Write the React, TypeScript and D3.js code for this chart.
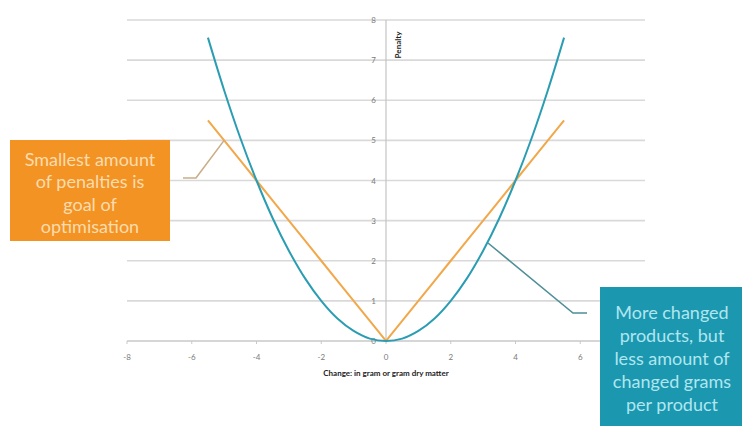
import React from "react";
import * as d3 from "d3";

const xValues = [-5.5, -5, -4.5, -4, -3.5, -3, -2.5, -2, -1.5, -1, -0.5, 0, 0.5, 1, 1.5, 2, 2.5, 3, 3.5, 4, 4.5, 5, 5.5];
const quadraticPenalty = [7.56, 6.25, 5.06, 4, 3.06, 2.25, 1.56, 1, 0.56, 0.25, 0.06, 0, 0.06, 0.25, 0.56, 1, 1.56, 2.25, 3.06, 4, 5.06, 6.25, 7.56];
const linearPenalty = [5.5, 5, 4.5, 4, 3.5, 3, 2.5, 2, 1.5, 1, 0.5, 0, 0.5, 1, 1.5, 2, 2.5, 3, 3.5, 4, 4.5, 5, 5.5];
const xTicks = [-8, -6, -4, -2, 0, 2, 4, 6];
const yTicks = [0, 1, 2, 3, 4, 5, 6, 7, 8];
const xTitle = "Change: in gram or gram dry matter";
const yTitle = "Penalty";
const orangeNote = ["Smallest amount", "of penalties is", "goal of", "optimisation"];
const tealNote = ["More changed", "products, but", "less amount of", "changed grams", "per product"];

export default function App() {
  const W = 742, H = 426;
  const x = d3.scaleLinear().domain([-8, 8]).range([127, 645]);
  const y = d3.scaleLinear().domain([0, 8]).range([341, 20]);

  const blueLine = d3.line<number>().x((_, i) => x(xValues[i])).y((d) => y(d)).curve(d3.curveCatmullRom);
  const orangeLine = d3.line<number>().x((_, i) => x(xValues[i])).y((d) => y(d));

  const font = "Lato, 'Open Sans', sans-serif";

  return (
    <svg width={W} height={H} style={{ position: "absolute", left: 0, top: 0, background: "#fff" }}>
      {/* gridlines */}
      {yTicks.map((t) => (
        <line key={"g" + t} x1={x(-8)} x2={x(8)} y1={y(t)} y2={y(t)} stroke={t === 0 ? "#c8c8c8" : "#d9d9d9"} strokeWidth={1.6} />
      ))}
      {/* y axis */}
      <line x1={x(0)} x2={x(0)} y1={y(8)} y2={y(0)} stroke="#c4c4c4" strokeWidth={1.2} />
      {/* x ticks */}
      {xTicks.map((t) => (
        <g key={"xt" + t}>
          <line x1={x(t)} x2={x(t)} y1={y(0)} y2={y(0) + 3} stroke="#c8c8c8" />
          <text x={x(t)} y={y(0) + 19} fontSize={8} fill="#7a7a7a" textAnchor="middle" fontFamily={font}>{t}</text>
        </g>
      ))}
      {/* y tick labels */}
      {yTicks.map((t) => (
        <text key={"yt" + t} x={x(0) - 10} y={y(t) + 3} fontSize={8} fill="#7a7a7a" textAnchor="end" fontFamily={font}>{t}</text>
      ))}
      {/* axis titles */}
      <text x={x(0) + 15} y={45} transform={`rotate(-90, ${x(0) + 15}, 45)`} fontSize={8} fontWeight="bold" fill="#222" textAnchor="middle" fontFamily={font}>{yTitle}</text>
      <text x={386} y={376} fontSize={8} fontWeight="bold" fill="#222" textAnchor="middle" fontFamily={font}>{xTitle}</text>

      {/* series */}
      <path d={orangeLine(linearPenalty) || ""} fill="none" stroke="#f2a84a" strokeWidth={2} />
      <path d={blueLine(quadraticPenalty) || ""} fill="none" stroke="#2b9db3" strokeWidth={2} />

      {/* connectors */}
      <polyline points={`183,178 196,178 ${x(-5)},${y(5)}`} fill="none" stroke="#c9ae88" strokeWidth={1.6} />
      <polyline points={`488,243 573,313 587,313`} fill="none" stroke="#4f8f98" strokeWidth={1.6} />

      {/* orange note */}
      <rect x={10} y={140} width={160} height={101} fill="#f39324" />
      {orangeNote.map((s, i) => (
        <text key={"o" + i} x={90} y={166 + i * 22.3} fontSize={18} fill="#fcdcae" textAnchor="middle" fontFamily={font}>{s}</text>
      ))}

      {/* teal note */}
      <rect x={600} y={287} width={142} height={139} fill="#1b97b0" />
      {tealNote.map((s, i) => (
        <text key={"t" + i} x={672} y={319 + i * 23} fontSize={18} fill="#b0e6ef" textAnchor="middle" fontFamily={font}>{s}</text>
      ))}
    </svg>
  );
}
